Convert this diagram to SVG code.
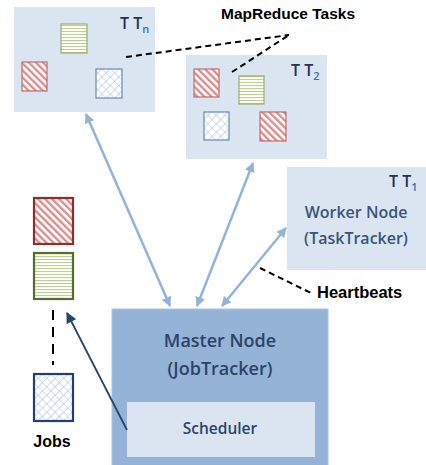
<svg xmlns="http://www.w3.org/2000/svg" width="426" height="465" viewBox="0 0 426 465">
  <defs>
    <pattern id="pRed" patternUnits="userSpaceOnUse" width="5" height="5" patternTransform="rotate(-45)">
      <rect width="5" height="5" fill="#fff"/>
      <rect width="2.4" height="5" fill="#d88e8c"/>
    </pattern>
    <pattern id="pGreen" patternUnits="userSpaceOnUse" width="6" height="3">
      <rect width="6" height="3" fill="#fff"/>
      <rect y="1" width="6" height="1.1" fill="#bcd190"/>
    </pattern>
    <pattern id="pBlue" patternUnits="userSpaceOnUse" width="6" height="6" patternTransform="rotate(45)">
      <rect width="6" height="6" fill="#fff"/>
      <path d="M0 0H6M0 0V6" stroke="#a9c0de" stroke-width="1.2" fill="none"/>
    </pattern>
    <marker id="ahLight" viewBox="0 0 10 10" refX="9" refY="5" markerWidth="4" markerHeight="4" orient="auto-start-reverse" markerUnits="strokeWidth">
      <path d="M0 0L10 5L0 10Z" fill="#95b3d7"/>
    </marker>
    <marker id="ahDark" viewBox="0 0 10 10" refX="9" refY="5" markerWidth="6" markerHeight="6" orient="auto" markerUnits="strokeWidth">
      <path d="M0 0L10 5L0 10Z" fill="#2a4468"/>
    </marker>
  </defs>
  <style>
    text { font-family: "Open Sans", "Liberation Sans", sans-serif; }
    .tt { fill: #dbe5f1; }
    .lbl { font-size: 16px; font-weight: 600; fill: #1f3454; }
    .sub { font-size: 11px; font-weight: 600; fill: #3d6db5; }
    .node { font-size: 16px; font-weight: 600; fill: #3b5478; text-anchor: middle; }
    .master { font-size: 18px; font-weight: 600; fill: #2b4468; text-anchor: middle; }
    .sched { font-size: 15.5px; font-weight: 600; fill: #2b4468; text-anchor: middle; }
    .bold { font-family: "Liberation Sans", Arial, sans-serif; font-weight: bold; fill: #000; }
    .red { fill: url(#pRed); stroke: #c06a68; stroke-width: 1.2; }
    .green { fill: url(#pGreen); stroke: #98ad6a; stroke-width: 1.2; }
    .blue { fill: url(#pBlue); stroke: #6d88ae; stroke-width: 1.2; }
    .dash { stroke: #000; stroke-width: 2; stroke-dasharray: 6 4; fill: none; }
    .link { stroke: #95b3d7; stroke-width: 2.5; fill: none; marker-start: url(#ahLight); marker-end: url(#ahLight); }
  </style>

  <!-- Task tracker n -->
  <g id="ttn">
    <rect class="tt" x="14" y="7" width="141" height="105"/>
    <text class="lbl" x="120" y="29">T T<tspan class="sub" dy="4">n</tspan></text>
    <rect class="green" x="61" y="24" width="26" height="29"/>
    <rect class="red" x="22" y="62" width="25" height="29"/>
    <rect class="blue" x="96" y="69" width="26" height="29"/>
  </g>

  <!-- Task tracker 2 -->
  <g id="tt2">
    <rect class="tt" x="186" y="55" width="141" height="104"/>
    <text class="lbl" x="291" y="76">T T<tspan class="sub" dy="4">2</tspan></text>
    <rect class="red" x="194" y="69" width="25" height="28"/>
    <rect class="green" x="239" y="76" width="25" height="28"/>
    <rect class="blue" x="204" y="112" width="25" height="28"/>
    <rect class="red" x="260" y="112" width="26" height="29"/>
  </g>

  <!-- Task tracker 1 / worker node -->
  <g id="tt1">
    <rect class="tt" x="287" y="167" width="139" height="103"/>
    <text class="lbl" x="389" y="187">T T<tspan class="sub" dy="4">1</tspan></text>
    <text class="node" x="356" y="218">Worker Node</text>
    <text class="node" x="356" y="244">(TaskTracker)</text>
  </g>

  <!-- Master node with scheduler -->
  <g id="master">
    <rect x="112" y="309" width="216" height="160" fill="#95b3d7" stroke="#a9c2e0" stroke-width="1"/>
    <text class="master" x="220" y="347">Master Node</text>
    <text class="master" x="220" y="375">(JobTracker)</text>
  </g>
  <g id="scheduler">
    <rect x="127" y="402" width="188" height="55" fill="#dbe5f1"/>
    <text class="sched" x="220" y="434">Scheduler</text>
  </g>

  <!-- Job queue -->
  <g id="jobs">
    <rect x="34" y="198" width="39" height="46" fill="url(#pRed)" stroke="#8c2f2d" stroke-width="2.2"/>
    <rect x="34" y="253" width="39" height="46" fill="url(#pGreen)" stroke="#566e2c" stroke-width="2.2"/>
    <line x1="53" y1="310" x2="53" y2="365" stroke="#000" stroke-width="2" stroke-dasharray="10 7"/>
    <rect x="34" y="374" width="39" height="47" fill="url(#pBlue)" stroke="#24406a" stroke-width="2.2"/>
    <text class="bold" x="52" y="447" text-anchor="middle" font-size="16">Jobs</text>
  </g>

  <!-- Labels -->
  <g id="labels">
    <text class="bold" x="221" y="19" font-size="15.5">MapReduce Tasks</text>
    <text class="bold" x="317" y="298" font-size="16.5">Heartbeats</text>
  </g>

  <!-- Connectors -->
  <g id="connectors">
    <line class="link" x1="86" y1="114" x2="170" y2="306"/>
    <line class="link" x1="253" y1="163" x2="197" y2="306"/>
    <line class="link" x1="286" y1="228" x2="222" y2="306"/>
    <line class="dash" x1="126" y1="57" x2="289" y2="35"/>
    <line class="dash" x1="232" y1="72" x2="289" y2="35"/>
    <line class="dash" x1="260" y1="268" x2="313" y2="294"/>
    <line x1="127" y1="430" x2="67" y2="313" stroke="#2a4468" stroke-width="1.8" marker-end="url(#ahDark)"/>
  </g>
</svg>
